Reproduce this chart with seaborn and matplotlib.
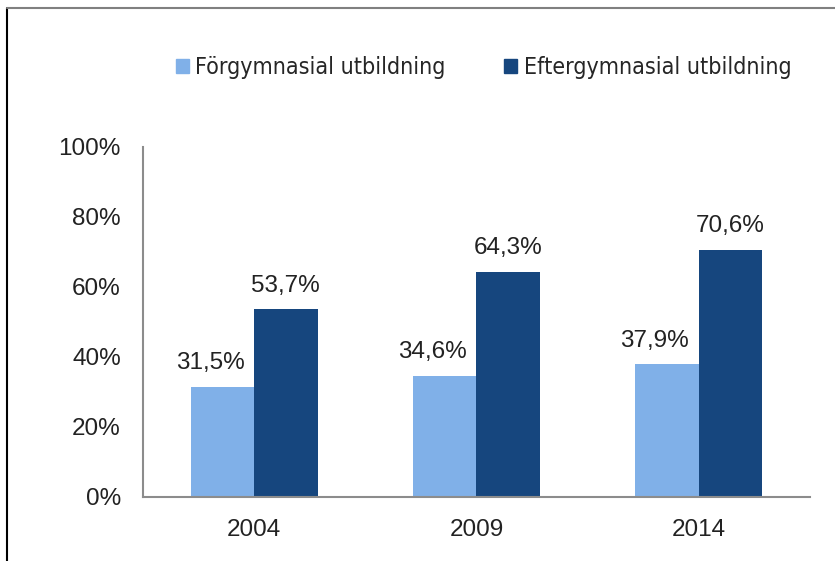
import matplotlib
matplotlib.use("Agg")
import matplotlib.pyplot as plt
import matplotlib.patches as mpatches
import matplotlib.lines as mlines
import pandas as pd
import seaborn as sns

years = ["2004", "2009", "2014"]
series = ["Förgymnasial utbildning", "Eftergymnasial utbildning"]
forgymnasial = [31.5, 34.6, 37.9]
eftergymnasial = [53.7, 64.3, 70.6]
yticks = [0, 20, 40, 60, 80, 100]
colors = ["#80B0E8", "#16467E"]

df = pd.DataFrame({
    "year": years * 2,
    "serie": [series[0]] * 3 + [series[1]] * 3,
    "value": forgymnasial + eftergymnasial,
})

sns.set_style("white")
plt.rcParams["font.family"] = ["Liberation Sans", "DejaVu Sans"]

fig = plt.figure(figsize=(8.35, 5.61), dpi=100)
ax = fig.add_axes([0.1713, 0.1141, 0.7987, 0.6239])

sns.barplot(data=df, x="year", y="value", hue="serie", palette=colors,
            width=0.57, saturation=1, linewidth=0, ax=ax, legend=False)

# light series labels sit a bit left of the bar centre in the original
shifts = [-9, 0]
for cont, dx in zip(ax.containers, shifts):
    labels = [f"{v:.1f}%".replace(".", ",") for v in cont.datavalues]
    anns = ax.bar_label(cont, labels=labels, padding=9, fontsize=17.5, color="#222222")
    for a in anns:
        a.xyann = (dx, a.xyann[1])

ax.set_ylim(0, 100)
ax.set_xlim(-0.5, 2.5)
ax.set_yticks(yticks)
ax.set_yticklabels([f"{t}%" for t in yticks])
ax.set_xlabel("")
ax.set_ylabel("")
ax.tick_params(axis="both", length=0, labelsize=17.5, labelcolor="#222222")
ax.tick_params(axis="y", pad=16)
ax.tick_params(axis="x", pad=16)
for s in ["top", "right"]:
    ax.spines[s].set_visible(False)
for s in ["left", "bottom"]:
    ax.spines[s].set_color("#8c8c8c")
    ax.spines[s].set_linewidth(1.5)

handles = [mpatches.Patch(color=c, label=l) for c, l in zip(colors, series)]
fig.legend(handles=handles, loc="center", bbox_to_anchor=(0.579, 0.879),
           ncol=2, frameon=False, handlelength=0.55, handleheight=0.55,
           handletextpad=0.3, columnspacing=2.5,
           prop={"family": "DejaVu Sans", "stretch": "condensed", "size": 16.7})

# frame of the original chart area
fig.add_artist(mlines.Line2D([7 / 835, 7 / 835], [0, 1 - 8 / 561], color="black", lw=1.5))
fig.add_artist(mlines.Line2D([7 / 835, 1], [1 - 8 / 561, 1 - 8 / 561], color="#808080", lw=1.5))

fig.savefig("out.png", dpi=100)
